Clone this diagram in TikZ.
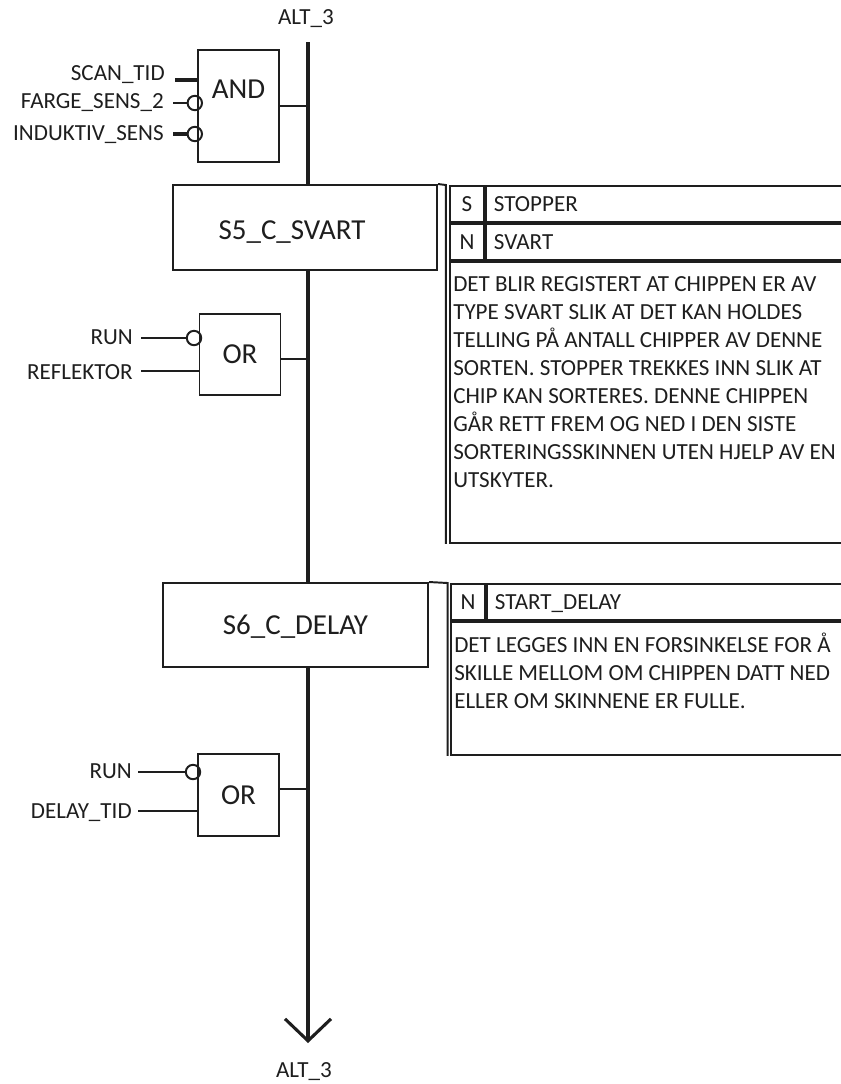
\documentclass[tikz,border=0pt]{standalone}
\usepackage{fontspec}
\setmainfont{Carlito}
\usetikzlibrary{arrows.meta,positioning}
\definecolor{Ink}{HTML}{1E1E1E}

\begin{document}
\begin{tikzpicture}[every node/.style={font=\fontsize{16.4}{19.9}\selectfont,text=Ink,inner sep=0pt},
  capl/.style={text height=10.5pt,text depth=0pt},
  big/.style={font=\fontsize{20.6}{24}\selectfont,text height=13.3pt,text depth=0pt},
  stepbox/.style={draw=Ink,line width=1.4pt,fill=white},
  gatebox/.style={draw=Ink,line width=1.4pt,fill=white,minimum width=2.025cm},
  neg/.style={circle,draw=Ink,line width=1.4pt,minimum size=0.36cm},
  inlbl/.style={capl,anchor=east},
  wire/.style={draw=Ink,line width=1.5pt},
  mainline/.style={draw=Ink,line width=2.2pt},
  actcell/.style={draw=Ink,line width=1.4pt,minimum height=0.9cm,anchor=north west},
  qual/.style={actcell,capl,minimum width=0.85cm},
  acttext/.style={actcell,capl,text width=8.7cm,align=left,inner xsep=0.2cm}]
  \useasboundingbox (0,0) rectangle (21.025,-27.1);
  \clip (0,0) rectangle (21.025,-27.1);

  % sequence line
  \coordinate (top) at (7.7,-1.05);
  \coordinate (tip) at (7.7,-26.075);
  \node[capl] (alttop) at (7.65,-0.425) {ALT\_3};
  \node[capl] (altbot) at (7.6,-26.75) {ALT\_3};

  % steps
  \node[stepbox,minimum width=6.6cm,minimum height=2.125cm] (s5) at (7.625,-5.6875) {};
  \node[big] (s5txt) at (7.3,-5.75) {S5\_C\_SVART};
  \node[stepbox,big,minimum width=6.625cm,minimum height=2.1cm] (s6) at (7.3875,-15.625) {S6\_C\_DELAY};

  \draw[mainline] (top) -- (top |- s5.north);
  \draw[mainline] (top |- s5.south) -- (top |- s6.north);
  \draw[mainline,-{Straight Barb[length=0.55cm,width=1.15cm]}] (top |- s6.south) -- (tip);

  % AND transition
  \node[gatebox,minimum height=2.8cm] (and) at (5.9625,-2.65) {};
  \node[big] (andtxt) at ([yshift=-1cm]and.north) {AND};
  \draw[wire,line width=1.8pt] (and.east) -- (and.east -| top);
  \node[inlbl] (scan) at (4.125,-1.825) {SCAN\_TID};
  \coordinate (scanin) at (4.375,-2.0);
  \draw[wire,line width=2.4pt] (scanin) -- (scanin -| and.west);
  \node[inlbl] (farge) at (4.1,-2.525) {FARGE\_SENS\_2};
  \node[neg] (n1) at (4.87,-2.575) {};
  \coordinate (fargein) at (4.325,-2.575);
  \draw[wire] (fargein) -- (n1.west);
  \node[inlbl] (ind) at (4.1,-3.325) {INDUKTIV\_SENS};
  \node[neg] (n2) at (4.87,-3.35) {};
  \coordinate (indin) at (4.325,-3.35);
  \draw[wire,line width=2.4pt] (indin) -- (n2.west);

  % first OR transition
  \node[gatebox,big,minimum height=2.025cm] (or1) at (6.0,-8.8625) {OR};
  \coordinate (o1) at ([yshift=-0.11cm]or1.east);
  \draw[wire,line width=1.8pt] (o1) -- (o1 -| top);
  \node[inlbl] (run1) at (3.325,-8.425) {RUN};
  \node[neg] (n3) at (4.85,-8.45) {};
  \coordinate (run1in) at (3.525,-8.45);
  \draw[wire] (run1in) -- (n3.west);
  \node[inlbl] (refl) at (3.325,-9.3) {REFLEKTOR};
  \coordinate (reflin) at (3.525,-9.275);
  \draw[wire] (reflin) -- (reflin -| or1.west);

  % second OR transition
  \node[gatebox,big,minimum height=2.05cm] (or2) at (5.9625,-19.875) {OR};
  \coordinate (o2) at ([yshift=0.15cm]or2.east);
  \draw[wire,line width=1.8pt] (o2) -- (o2 -| top);
  \node[inlbl] (run2) at (3.3,-19.275) {RUN};
  \node[neg] (n4) at (4.825,-19.3) {};
  \coordinate (run2in) at (3.45,-19.3);
  \draw[wire] (run2in) -- (n4.west);
  \node[inlbl] (dtid) at (3.3,-20.275) {DELAY\_TID};
  \coordinate (dtidin) at (3.45,-20.275);
  \draw[wire] (dtidin) -- (dtidin -| or2.west);

  % actions of S5
  \node[qual] (q5s) at (11.225,-4.625) {S};
  \node[acttext] (t5s) at (q5s.north east) {STOPPER};
  \node[qual] (q5n) at (q5s.south west) {N};
  \node[acttext] (t5n) at (q5n.north east) {SVART};
  \node[actcell,minimum width=10cm,minimum height=7.025cm] (d5) at (q5n.south west) {};
  \node[anchor=north west,align=left] (d5txt) at ([xshift=0.1cm,yshift=-0.39cm]d5.north west)
    {DET BLIR REGISTERT AT CHIPPEN ER AV\\TYPE SVART SLIK AT DET KAN HOLDES\\TELLING PÅ ANTALL CHIPPER AV DENNE\\SORTEN. STOPPER TREKKES INN SLIK AT\\CHIP KAN SORTERES. DENNE CHIPPEN\\GÅR RETT FREM OG NED I DEN SISTE\\SORTERINGSSKINNEN UTEN HJELP AV EN\\UTSKYTER.};
  \draw[Ink,line width=1.4pt] (s5.north east) -- ([xshift=-0.08cm]q5s.north west) -- ([xshift=-0.08cm]d5.south west);

  % actions of S6
  \node[qual] (q6n) at (11.25,-14.575) {N};
  \node[acttext] (t6n) at (q6n.north east) {START\_DELAY};
  \node[actcell,minimum width=10cm,minimum height=3.325cm] (d6) at (q6n.south west) {};
  \node[anchor=north west,align=left] (d6txt) at ([xshift=0.1cm,yshift=-0.285cm]d6.north west)
    {DET LEGGES INN EN FORSINKELSE FOR Å\\SKILLE MELLOM OM CHIPPEN DATT NED\\ELLER OM SKINNENE ER FULLE.};
  \draw[Ink,line width=1.4pt] (s6.north east) -- ([xshift=-0.06cm]q6n.north west) -- ([xshift=-0.06cm]d6.south west);
\end{tikzpicture}
\end{document}
